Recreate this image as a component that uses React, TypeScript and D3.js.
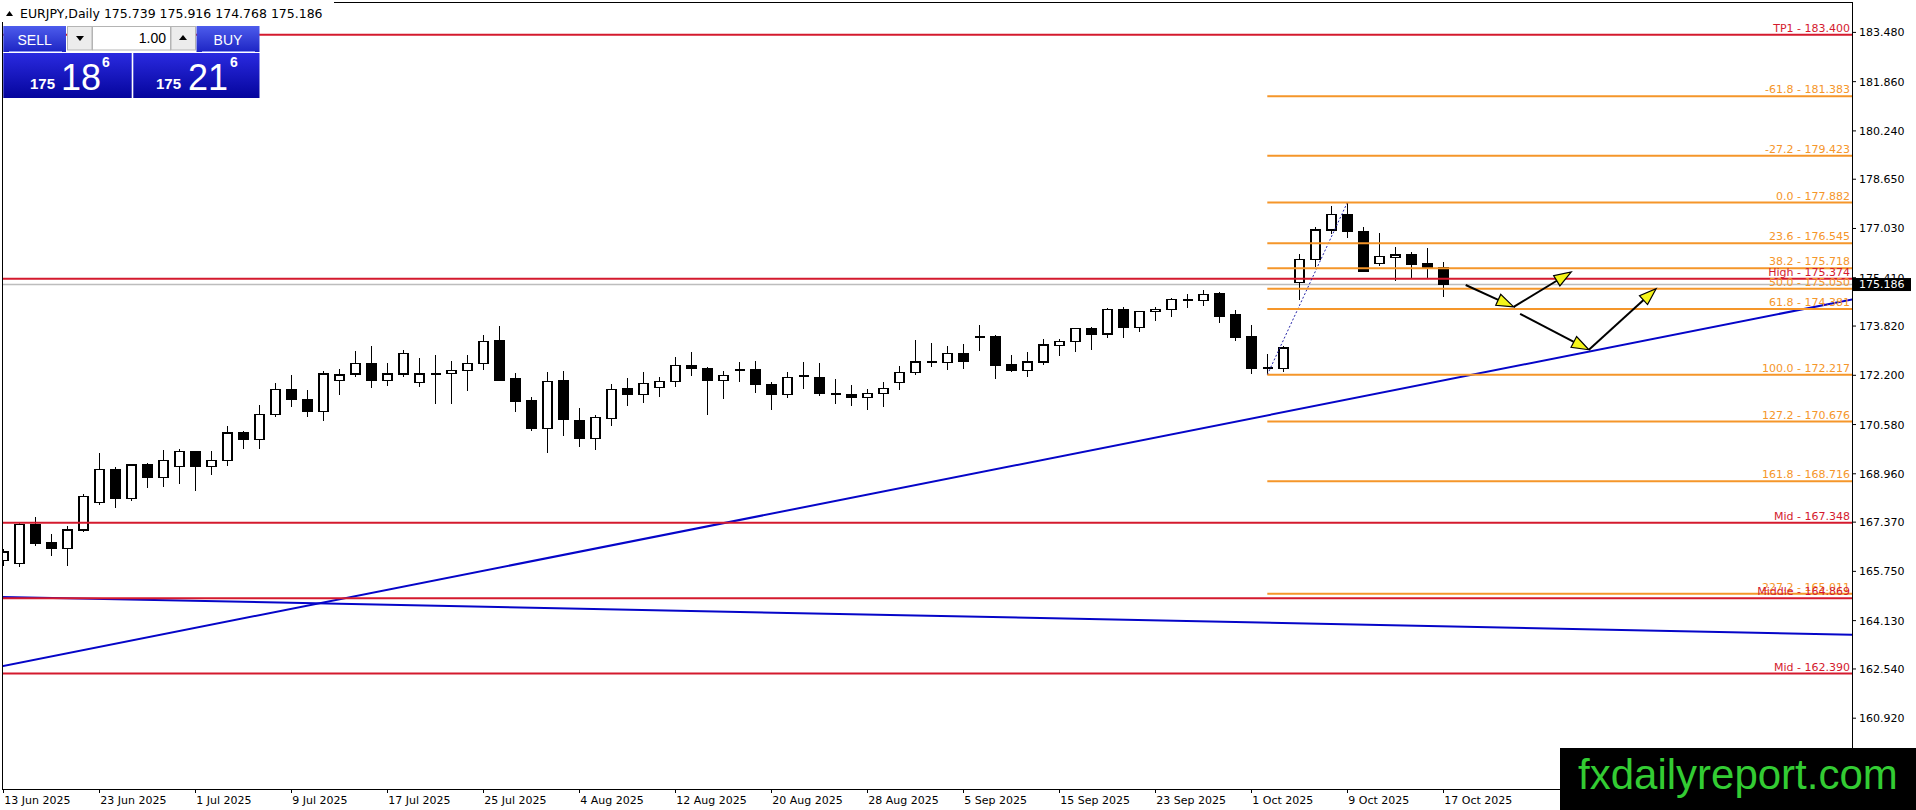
import React from "react";
import * as d3 from "d3";

const W = 1916;
const H = 810;

const symbolText = "EURJPY,Daily";
const ohlcText = ["175.739", "175.916", "174.768", "175.186"];
const lotText = "1.00";
const sellQuote = ["175", "18", "6"];
const buyQuote = ["175", "21", "6"];

const openV = [166.12, 166.01, 167.28, 166.69, 166.5, 167.11, 168.02, 169.11, 168.15, 169.25, 168.85, 169.21, 169.7, 169.21, 169.41, 170.3, 170.1, 170.92, 171.74, 171.41, 171.02, 172.04, 172.24, 172.6, 172.04, 172.24, 171.97, 172.27, 172.27, 172.37, 172.6, 173.35, 172.08, 171.36, 170.46, 172.01, 170.72, 170.12, 170.79, 171.75, 171.57, 171.8, 172.0, 172.53, 172.43, 172.04, 172.4, 172.38, 171.9, 171.56, 172.18, 172.13, 171.61, 171.58, 171.48, 171.61, 171.97, 172.3, 172.62, 172.63, 172.93, 173.47, 173.46, 172.54, 172.35, 172.64, 173.17, 173.3, 173.73, 173.56, 174.36, 173.76, 174.29, 174.36, 174.69, 174.65, 174.88, 174.2, 173.47, 172.43, 172.43, 175.26, 176.0, 176.98, 177.49, 176.92, 175.89, 176.08, 176.16, 175.88, 175.739];
const highV = [166.5, 167.35, 167.55, 166.98, 167.24, 168.31, 169.64, 169.18, 169.28, 169.32, 169.75, 169.78, 169.72, 169.72, 170.53, 170.37, 171.23, 171.95, 172.21, 171.71, 172.34, 172.4, 173.0, 173.17, 172.61, 173.04, 172.77, 172.87, 172.67, 172.87, 173.53, 173.83, 172.27, 171.48, 172.31, 172.34, 171.12, 170.9, 171.9, 172.11, 172.31, 172.15, 172.8, 172.98, 172.48, 172.34, 172.65, 172.67, 171.98, 172.3, 172.64, 172.61, 172.08, 171.87, 171.75, 171.98, 172.51, 173.36, 173.26, 173.15, 173.23, 173.86, 173.53, 172.86, 172.97, 173.38, 173.39, 173.75, 173.78, 174.41, 174.44, 174.33, 174.44, 174.75, 174.89, 174.99, 174.95, 174.35, 173.86, 172.9, 173.17, 176.19, 177.09, 177.78, 177.882, 177.09, 176.87, 176.41, 176.25, 176.4, 175.916];
const lowV = [165.93, 165.9, 166.59, 166.24, 165.93, 167.03, 167.93, 167.82, 168.05, 168.48, 168.54, 168.61, 168.38, 168.93, 169.2, 169.76, 169.79, 170.84, 171.17, 170.84, 170.71, 171.56, 172.16, 171.77, 171.86, 172.13, 171.83, 171.27, 171.27, 171.67, 172.39, 172.0, 171.0, 170.38, 169.66, 170.21, 169.85, 169.74, 170.54, 171.19, 171.29, 171.49, 171.82, 172.19, 170.89, 171.43, 171.99, 171.62, 171.06, 171.45, 171.75, 171.52, 171.26, 171.19, 171.07, 171.17, 171.73, 172.22, 172.48, 172.39, 172.42, 173.01, 172.09, 172.32, 172.14, 172.54, 172.84, 172.96, 173.03, 173.43, 173.42, 173.62, 173.98, 174.13, 174.42, 174.49, 173.91, 173.32, 172.24, 172.217, 172.32, 174.68, 175.76, 176.85, 176.71, 175.61, 175.81, 175.3, 175.4, 175.4, 174.768];
const closeV = [166.39, 167.28, 166.67, 166.5, 167.11, 168.22, 169.11, 168.15, 169.25, 168.84, 169.41, 169.7, 169.21, 169.41, 170.3, 170.09, 170.92, 171.74, 171.4, 171.01, 172.24, 172.21, 172.6, 172.03, 172.24, 172.93, 172.24, 172.24, 172.37, 172.6, 173.32, 172.02, 171.33, 170.44, 172.0, 170.74, 170.12, 170.8, 171.74, 171.56, 171.94, 172.0, 172.53, 172.43, 172.04, 172.2, 172.35, 171.89, 171.56, 172.13, 172.13, 171.6, 171.58, 171.48, 171.61, 171.77, 172.3, 172.64, 172.64, 172.93, 172.65, 173.44, 172.52, 172.35, 172.64, 173.2, 173.3, 173.73, 173.56, 174.36, 173.76, 174.29, 174.36, 174.69, 174.66, 174.85, 174.14, 173.45, 172.43, 172.45, 173.1, 176.0, 176.98, 177.49, 176.94, 175.62, 176.1, 176.16, 175.85, 175.74, 175.186];

const dateLabels = ["13 Jun 2025", "23 Jun 2025", "1 Jul 2025", "9 Jul 2025", "17 Jul 2025", "25 Jul 2025", "4 Aug 2025", "12 Aug 2025", "20 Aug 2025", "28 Aug 2025", "5 Sep 2025", "15 Sep 2025", "23 Sep 2025", "1 Oct 2025", "9 Oct 2025", "17 Oct 2025"];
const dateLabelBars = [0, 6, 12, 18, 24, 30, 36, 42, 48, 54, 60, 66, 72, 78, 84, 90];

const priceTicks = [183.48, 181.86, 180.24, 178.65, 177.03, 175.41, 173.82, 172.2, 170.58, 168.96, 167.37, 165.75, 164.13, 162.54, 160.92];

const fibLevels = [-61.8, -27.2, 0, 23.6, 38.2, 50, 61.8, 100, 127.2, 161.8, 227.2];
const fibFromBar = 79;
const fibFromPrice = 172.217;
const fibToBar = 84;
const fibToPrice = 177.882;

const hLineNames = ["TP1", "High", "Mid", "Middle", "Mid"];
const hLinePrices = [183.4, 175.374, 167.348, 164.869, 162.39];

const trendBars1 = [0, 115.4];
const trendPrices1 = [162.64, 174.68];
const trendBars2 = [0, 115.4];
const trendPrices2 = [164.91, 163.67];

const arrowStartBar = [91.4, 94.4, 94.8, 99.1];
const arrowStartPrice = [175.17, 174.45, 174.22, 173.04];
const arrowEndBar = [94.4, 98.0, 99.1, 103.3];
const arrowEndPrice = [174.45, 175.6, 173.04, 175.05];

const bidPrice = 175.186;
const watermark = "fxdailyreport.com";

// layout
const PL = 2.7, PR = 1852, PT = 2.3, PB = 789;
const RED = "#d41a2e";
const ORANGE = "#f5962a";
const BLUE = "#0505c8";
const FONT = "'DejaVu Sans', Verdana, sans-serif";

export default function App() {
  const x = d3.scaleLinear().domain([0, 1]).range([3.3, 19.3]);
  const y = d3.scaleLinear().domain([160.92, 183.48]).range([718.2, 32.4]);
  const fibRange = fibToPrice - fibFromPrice;
  const line = d3.line<[number, number]>().x((d) => x(d[0])).y((d) => y(d[1]));

  const extend = (b: number[], p: number[]) => {
    const s = (p[1] - p[0]) / (b[1] - b[0]);
    const b0 = -2, b1 = 120;
    return [[b0, p[0] + s * (b0 - b[0])], [b1, p[0] + s * (b1 - b[0])]] as [number, number][];
  };

  return (
    <svg width={W} height={H} viewBox={`0 0 ${W} ${H}`} style={{ position: "absolute", left: 0, top: 0, background: "#fff" }}>
      <defs>
        <clipPath id="plot">
          <rect x={PL} y={PT} width={PR - PL} height={PB - PT} />
        </clipPath>
        <linearGradient id="btn" x1="0" y1="0" x2="0" y2="1">
          <stop offset="0" stopColor="#4d5cec" />
          <stop offset="1" stopColor="#1d25c4" />
        </linearGradient>
        <linearGradient id="big" x1="0" y1="0" x2="0" y2="1">
          <stop offset="0" stopColor="#2a2ae0" />
          <stop offset="1" stopColor="#05059c" />
        </linearGradient>
      </defs>
      <rect x={0} y={0} width={W} height={H} fill="#fff" />

      <g clipPath="url(#plot)">
        <line x1={PL} x2={PR} y1={y(bidPrice)} y2={y(bidPrice)} stroke="#bdbdbd" strokeWidth={1.5} />
        <path d={line(extend(trendBars1, trendPrices1)) || ""} stroke={BLUE} strokeWidth={2} fill="none" />
        <path d={line(extend(trendBars2, trendPrices2)) || ""} stroke={BLUE} strokeWidth={2} fill="none" />
        <g shapeRendering="crispEdges">
          {closeV.map((c, i) => {
            const o = openV[i];
            const cx = Math.round(x(i)) + 0.5;
            const top = y(Math.max(o, c));
            const bot = y(Math.min(o, c));
            const bull = c >= o;
            const h = Math.max(bot - top, 1);
            return (
              <g key={i}>
                <line x1={cx} x2={cx} y1={y(highV[i])} y2={y(lowV[i])} stroke="#000" strokeWidth={1.4} />
                {h < 2 ? (
                  <rect x={cx - 5} y={top - 0.5} width={10} height={2} fill="#000" />
                ) : (
                  <rect x={cx - 4.5} y={top} width={9} height={h} fill={bull ? "#fff" : "#000"} stroke="#000" strokeWidth={1.2} />
                )}
              </g>
            );
          })}
        </g>
        {hLinePrices.map((p, i) => (
          <line key={"h" + i} x1={PL} x2={PR} y1={y(p)} y2={y(p)} stroke={RED} strokeWidth={2} />
        ))}
        <line x1={x(fibFromBar)} y1={y(fibFromPrice)} x2={x(fibToBar)} y2={y(fibToPrice)} stroke="#2424a8" strokeWidth={1} strokeDasharray="2 2" />
        {fibLevels.map((lv, i) => {
          const p = fibToPrice - (lv / 100) * fibRange;
          return <line key={"f" + i} x1={x(fibFromBar)} x2={PR} y1={y(p)} y2={y(p)} stroke={ORANGE} strokeWidth={2} />;
        })}
        {fibLevels.map((lv, i) => {
          const p = fibToPrice - (lv / 100) * fibRange;
          return (
            <text key={"ft" + i} x={PR - 2} y={y(p) - 3} textAnchor="end" fontFamily={FONT} fontSize={11} fill={ORANGE}>
              {`${lv.toFixed(1)} - ${p.toFixed(3)}`}
            </text>
          );
        })}
        {hLinePrices.map((p, i) => (
          <text key={"ht" + i} x={PR - 2} y={y(p) - 3} textAnchor="end" fontFamily={FONT} fontSize={11} fill={RED}>
            {`${hLineNames[i]} - ${p.toFixed(3)}`}
          </text>
        ))}
        {arrowStartBar.map((b, i) => {
          const x1 = x(b), y1 = y(arrowStartPrice[i]);
          const x2 = x(arrowEndBar[i]), y2 = y(arrowEndPrice[i]);
          const dx = x2 - x1, dy = y2 - y1;
          const len = Math.hypot(dx, dy);
          const ux = dx / len, uy = dy / len;
          const L = 17, w = 6;
          const bx = x2 - ux * L, by = y2 - uy * L;
          const pts = `${x2},${y2} ${bx - uy * w},${by + ux * w} ${bx + uy * w},${by - ux * w}`;
          return (
            <g key={"a" + i}>
              <line x1={x1} y1={y1} x2={bx} y2={by} stroke="#000" strokeWidth={2} />
              <polygon points={pts} fill="#f4f41a" stroke="#000" strokeWidth={1.2} />
            </g>
          );
        })}
      </g>

      <rect x={PL} y={PT} width={PR - PL} height={PB - PT} fill="none" stroke="#000" strokeWidth={1} shapeRendering="crispEdges" />

      {priceTicks.map((t, i) => (
        <g key={"pt" + i}>
          <line x1={PR} x2={PR + 4} y1={y(t)} y2={y(t)} stroke="#000" strokeWidth={1} />
          <text x={PR + 7} y={y(t)} dy="0.36em" fontFamily={FONT} fontSize={11} fill="#000">
            {t.toFixed(3)}
          </text>
        </g>
      ))}
      <rect x={PR + 1} y={y(bidPrice) - 6.5} width={58} height={13} fill="#000" />
      <text x={PR + 7} y={y(bidPrice)} dy="0.36em" fontFamily={FONT} fontSize={11} fill="#fff">
        {bidPrice.toFixed(3)}
      </text>

      {dateLabelBars.map((b, i) => (
        <g key={"dt" + i}>
          <line x1={Math.round(x(b)) + 0.5} x2={Math.round(x(b)) + 0.5} y1={PB} y2={PB + 4} stroke="#000" strokeWidth={1} />
          <text x={x(b) + 1} y={PB + 15} fontFamily={FONT} fontSize={11} fill="#000">
            {dateLabels[i]}
          </text>
        </g>
      ))}

      <rect x={0} y={0} width={334} height={22} fill="#fff" />
      <polygon points="6,16 13,16 9.5,11" fill="#000" />
      <text x={20} y={18} fontFamily={FONT} fontSize={12.5} fill="#000">
        {`${symbolText}  ${ohlcText.join(" ")}`}
      </text>

      <g fontFamily="'Liberation Sans', Arial, sans-serif">
        <rect x={3.3} y={26} width={62.7} height={26} fill="url(#btn)" />
        <line x1={9} x2={62} y1={51.5} y2={51.5} stroke="#8d95f2" strokeWidth={1} />
        <text x={34.6} y={44.5} textAnchor="middle" fontSize={14} fill="#fff">SELL</text>
        <rect x={67.5} y={26.5} width={24.5} height={23.5} fill="#ececec" stroke="#b4b4b4" />
        <polygon points="76,36 84,36 80,41" fill="#000" />
        <rect x={92.5} y={26.5} width={78} height={23.5} fill="#fff" stroke="#b4b4b4" />
        <text x={166} y={43} textAnchor="end" fontSize={14} fill="#000">{lotText}</text>
        <rect x={171} y={26.5} width={24.5} height={23.5} fill="#ececec" stroke="#b4b4b4" />
        <polygon points="179,40 187,40 183,35" fill="#000" />
        <rect x={196.5} y={26} width={63} height={26} fill="url(#btn)" />
        <line x1={202} x2={255} y1={51.5} y2={51.5} stroke="#8d95f2" strokeWidth={1} />
        <text x={228} y={44.5} textAnchor="middle" fontSize={14} fill="#fff">BUY</text>

        <rect x={3.3} y={53} width={128.4} height={45} fill="url(#big)" />
        <rect x={133.3} y={53} width={126.2} height={45} fill="url(#big)" />
        <text x={30} y={89} fontSize={15} fontWeight="bold" fill="#fff">{sellQuote[0]}</text>
        <text x={61} y={90} fontSize={36} fill="#fff">{sellQuote[1]}</text>
        <text x={102} y={67} fontSize={14} fontWeight="bold" fill="#fff">{sellQuote[2]}</text>
        <text x={156} y={89} fontSize={15} fontWeight="bold" fill="#fff">{buyQuote[0]}</text>
        <text x={188} y={90} fontSize={36} fill="#fff">{buyQuote[1]}</text>
        <text x={230} y={67} fontSize={14} fontWeight="bold" fill="#fff">{buyQuote[2]}</text>
      </g>

      <rect x={1560} y={748} width={356} height={62} fill="#000" />
      <text x={1578} y={789} fontFamily="'Liberation Sans', Arial, sans-serif" fontSize={42} fill="#33cc33">
        {watermark}
      </text>
    </svg>
  );
}
